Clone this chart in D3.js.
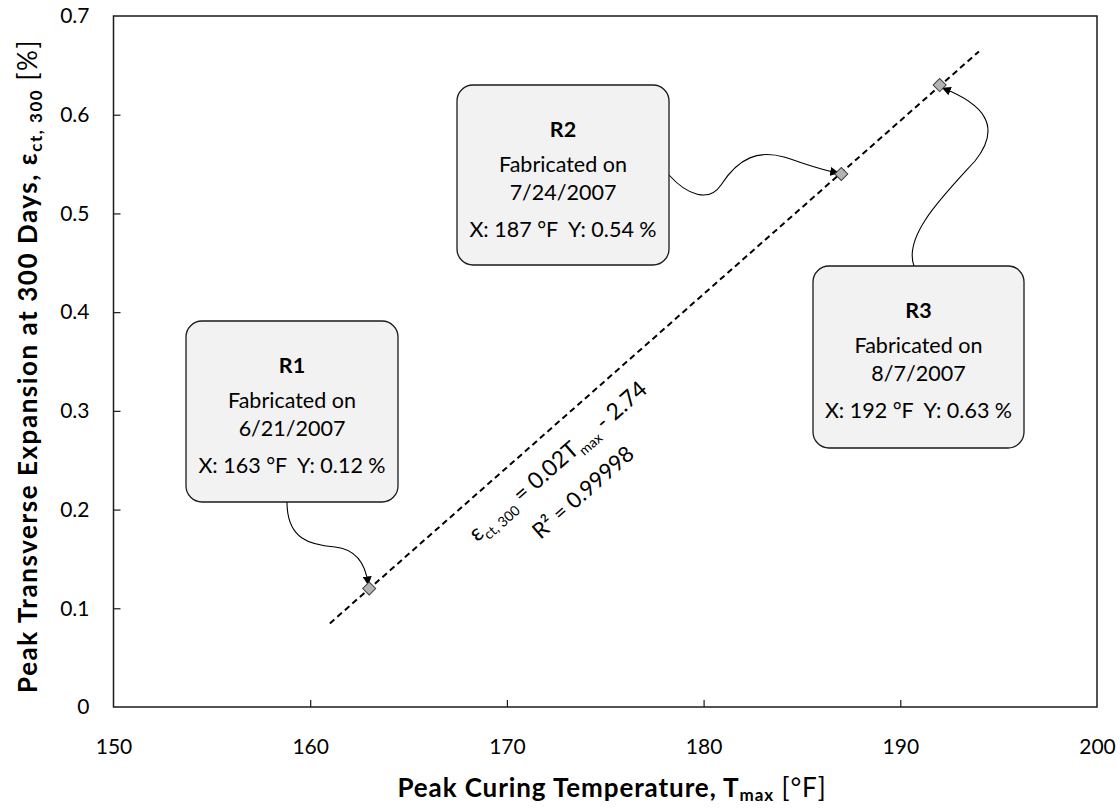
<!DOCTYPE html>
<html>
<head>
<meta charset="utf-8">
<script src="https://cdn.jsdelivr.net/npm/d3@7"></script>
<style>
  html, body { margin: 0; padding: 0; background: #fff; }
  svg { display: block; font-family: Lato, "Open Sans", sans-serif; }
</style>
</head>
<body>
<svg id="chart" width="1120" height="808"></svg>
<script>
// ---------- data ----------
const sampleNames = ["R1", "R2", "R3"];
const fabricationDates = ["6/21/2007", "7/24/2007", "8/7/2007"];
const peakTemps = [163, 187, 192];          // °F
const peakExpansion = [0.12, 0.54, 0.63];   // %
const xTicks = [150, 160, 170, 180, 190, 200];
const yTicks = [0, 0.1, 0.2, 0.3, 0.4, 0.5, 0.6, 0.7];
const trendRange = [161, 194];              // trendline extent (forecast ±2)
const eqLabel = { eps: "ε", sub: "ct, 300", mid: " = 0.02T", sub2: "max", tail: " - 2.74" };
const r2Label = "R² = 0.99998";

// ---------- layout ----------
const W = 1120, H = 808;
const margin = { left: 113.5, top: 16, right: 23, bottom: 101 };
const boxLayout = [
  { x: 186, y: 321, w: 212, h: 181 },
  { x: 457, y: 85,  w: 212, h: 180 },
  { x: 813, y: 266, w: 211, h: 182 }
];

const svg = d3.select("#chart");
const x = d3.scaleLinear().domain([150, 200]).range([margin.left, W - margin.right]);
const y = d3.scaleLinear().domain([0, 0.7]).range([H - margin.bottom, margin.top]);

// linear regression from data
const n = peakTemps.length;
const mx = d3.mean(peakTemps), my = d3.mean(peakExpansion);
let sxy = 0, sxx = 0;
for (let i = 0; i < n; i++) { sxy += (peakTemps[i]-mx)*(peakExpansion[i]-my); sxx += (peakTemps[i]-mx)**2; }
const slope = sxy / sxx, intercept = my - slope * mx;

// plot frame
svg.append("rect")
  .attr("x", x(150)).attr("y", y(0.7))
  .attr("width", x(200) - x(150)).attr("height", y(0) - y(0.7))
  .attr("fill", "none").attr("stroke", "#1a1a1a").attr("stroke-width", 1.5);

// axes
const xAxis = svg.append("g").attr("transform", `translate(0,${y(0)})`)
  .call(d3.axisBottom(x).tickValues(xTicks).tickSize(-7).tickPadding(32).tickFormat(d3.format("d")));
const yAxis = svg.append("g").attr("transform", `translate(${x(150)},0)`)
  .call(d3.axisLeft(y).tickValues(yTicks).tickSize(-7).tickPadding(24).tickFormat(d => d === 0 ? "0" : d3.format(".1f")(d)));
[xAxis, yAxis].forEach(g => {
  g.select(".domain").remove();
  g.selectAll(".tick line").attr("stroke", "#1a1a1a").attr("stroke-width", 1.2);
  g.selectAll(".tick text").attr("fill", "#000").style("font-size", "21px").style("font-family", "Lato, sans-serif");
});
xAxis.selectAll(".tick").filter(d => d === 150 || d === 200).select("line").remove();
yAxis.selectAll(".tick").filter(d => d === 0 || d === 0.7).select("line").remove();

// trendline
svg.append("line")
  .attr("x1", x(trendRange[0])).attr("y1", y(slope*trendRange[0] + intercept))
  .attr("x2", x(trendRange[1])).attr("y2", y(slope*trendRange[1] + intercept))
  .attr("stroke", "#000").attr("stroke-width", 2).attr("stroke-dasharray", "6,4");

// equation text
const angle = Math.atan2(y(slope*200+intercept) - y(slope*150+intercept), x(200) - x(150)) * 180 / Math.PI;
const eq = svg.append("text")
  .attr("transform", `translate(563,467) rotate(${angle})`)
  .attr("text-anchor", "middle").style("font-size", "23px").attr("fill", "#000");
eq.append("tspan").text(eqLabel.eps);
eq.append("tspan").attr("dy", 6).style("font-size", "14px").text(eqLabel.sub);
eq.append("tspan").attr("dy", -6).text(eqLabel.mid);
eq.append("tspan").attr("dy", 6).style("font-size", "14px").text(eqLabel.sub2);
eq.append("tspan").attr("dy", -6).text(eqLabel.tail);
svg.append("text")
  .attr("transform", `translate(588,498) rotate(${angle})`)
  .attr("text-anchor", "middle").style("font-size", "22px").attr("fill", "#000")
  .text(r2Label);

// arrow marker
svg.append("defs").append("marker")
  .attr("id", "arrow").attr("viewBox", "0 0 10 10").attr("refX", 9).attr("refY", 5)
  .attr("markerWidth", 9).attr("markerHeight", 9).attr("markerUnits", "userSpaceOnUse")
  .attr("orient", "auto")
  .append("path").attr("d", "M0,0 L10,5 L0,10 Z").attr("fill", "#000");

// connectors
const pts = peakTemps.map((t, i) => [x(t), y(peakExpansion[i])]);
const connectors = [
  b => `M${b.x+101},${b.y+b.h} C${b.x+101},${b.y+b.h+38} ${b.x+125},${b.y+b.h+43} ${b.x+149},${b.y+b.h+45} C${b.x+168},${b.y+b.h+47} ${pts[0][0]-4},${pts[0][1]-28} ${pts[0][0]-1},${pts[0][1]-4}`,
  b => `M${b.x+b.w},${b.y+90} C${b.x+b.w+18},${b.y+110} ${b.x+b.w+40},${b.y+118} ${b.x+b.w+52},${b.y+100} C${b.x+b.w+70},${b.y+72} ${b.x+b.w+90},${b.y+65} ${b.x+b.w+115},${b.y+72} C${b.x+b.w+140},${b.y+80} ${pts[1][0]-20},${pts[1][1]-4} ${pts[1][0]-3},${pts[1][1]-1}`,
  b => `M${b.x+101},${b.y} C${b.x+90},${b.y-30} ${b.x+130},${b.y-70} ${b.x+162},${b.y-105} C${b.x+190},${b.y-140} ${b.x+170},${b.y-162} ${pts[2][0]+3},${pts[2][1]+3}`
];
svg.append("g").selectAll("path").data(boxLayout).join("path")
  .attr("d", (b, i) => connectors[i](b))
  .attr("fill", "none").attr("stroke", "#000").attr("stroke-width", 1.1)
  .attr("marker-end", "url(#arrow)");

// data markers (diamonds)
svg.append("g").selectAll("path").data(peakTemps).join("path")
  .attr("d", d3.symbol().type(d3.symbolSquare).size(85))
  .attr("transform", (d, i) => `translate(${x(d)},${y(peakExpansion[i])}) rotate(45)`)
  .attr("fill", "#b3b3b3").attr("stroke", "#404040").attr("stroke-width", 1);

// callout boxes
const boxes = svg.append("g").selectAll("g").data(boxLayout).join("g")
  .attr("transform", b => `translate(${b.x},${b.y})`);
boxes.append("rect")
  .attr("width", b => b.w).attr("height", b => b.h).attr("rx", 16).attr("ry", 16)
  .attr("fill", "#f2f2f2").attr("stroke", "#1a1a1a").attr("stroke-width", 1.3);
boxes.append("text").attr("x", b => b.w/2).attr("y", 52).attr("text-anchor", "middle")
  .style("font-size", "21.5px").style("font-weight", "bold").text((b, i) => sampleNames[i]);
boxes.append("text").attr("x", b => b.w/2).attr("y", 87).attr("text-anchor", "middle")
  .style("font-size", "21.5px").text("Fabricated on");
boxes.append("text").attr("x", b => b.w/2).attr("y", 115).attr("text-anchor", "middle")
  .style("font-size", "21.5px").text((b, i) => fabricationDates[i]);
boxes.append("text").attr("x", b => b.w/2).attr("y", 152).attr("text-anchor", "middle")
  .style("font-size", "21.5px").attr("xml:space", "preserve")
  .text((b, i) => `X: ${peakTemps[i]} °F  Y: ${d3.format(".2f")(peakExpansion[i])} %`);

// axis titles
const xt = svg.append("text").attr("x", 612).attr("y", 797).attr("text-anchor", "middle")
  .style("font-size", "26px").style("font-weight", "bold").style("letter-spacing", "0.9px");
xt.append("tspan").text("Peak Curing Temperature, T");
xt.append("tspan").attr("dy", 4).style("font-size", "17px").text("max");
xt.append("tspan").attr("dy", -4).style("font-weight", "normal").text(" [°F]");

const yt = svg.append("text").attr("transform", "translate(37,366) rotate(-90)").attr("text-anchor", "middle")
  .style("font-size", "26px").style("font-weight", "bold").style("letter-spacing", "1.55px");
yt.append("tspan").text("Peak Transverse Expansion at 300 Days, ε");
yt.append("tspan").attr("dy", 5).style("font-size", "17px").text("ct, 300");
yt.append("tspan").attr("dy", -5).style("font-weight", "normal").text(" [%]");
</script>
</body>
</html>
